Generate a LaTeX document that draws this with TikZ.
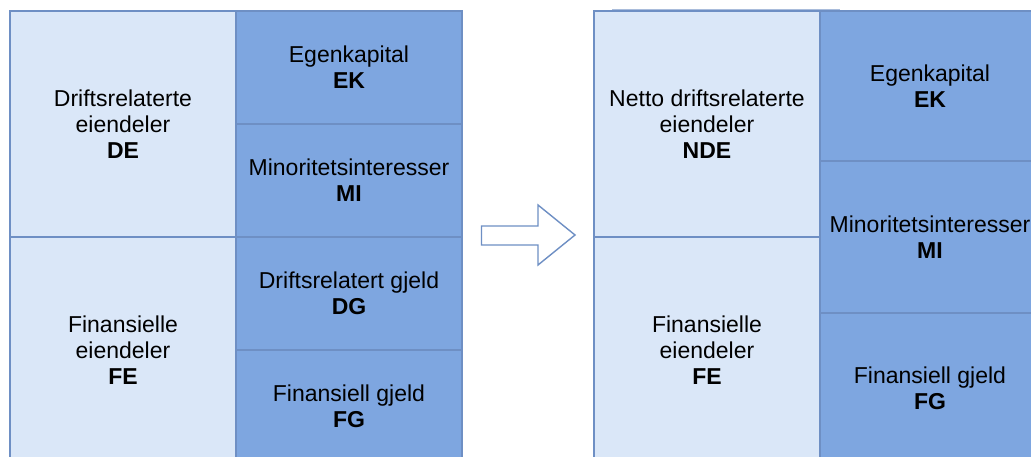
\documentclass[tikz,border=0pt]{standalone}
\usepackage{fontspec}
\setmainfont{Liberation Sans}
\definecolor{lightcell}{HTML}{DAE7F8}
\definecolor{darkcell}{HTML}{7EA6E0}
\definecolor{edge}{HTML}{6E8FC4}
\definecolor{edgefaint}{HTML}{A9BCDB}
\tikzset{
  cell/.style={draw=edge, line width=1.4pt, inner sep=0pt, outer sep=0pt,
    align=center, font=\fontsize{23}{26}\selectfont},
  lightbox/.style={cell, fill=lightcell},
  darkbox/.style={cell, fill=darkcell},
  shiftarrow/.style={draw=edge, line width=1.4pt, fill=white, line join=miter},
}
\begin{document}
\begin{tikzpicture}[x=1pt, y=-1pt]
\useasboundingbox (0,0) rectangle (1031,457);
\clip (0,0) rectangle (1031,457);
\fill[white] (0,0) rectangle (1031,457);

% balance sheet before reclassification
\node[lightbox, minimum width=226pt, minimum height=226pt] (de) at (123,124)
  {Driftsrelaterte\\eiendeler\\\textbf{DE}};
\node[lightbox, minimum width=226pt, minimum height=226pt] (fe) at (123,350)
  {Finansielle\\eiendeler\\\textbf{FE}};
\node[darkbox, minimum width=226pt, minimum height=113pt] (ek) at (349,67.5)
  {Egenkapital\\\textbf{EK}};
\node[darkbox, minimum width=226pt, minimum height=113pt] (mi) at (349,180.5)
  {Minoritetsinteresser\\\textbf{MI}};
\node[darkbox, minimum width=226pt, minimum height=113pt] (dg) at (349,293.5)
  {Driftsrelatert gjeld\\\textbf{DG}};
\node[darkbox, minimum width=226pt, minimum height=113pt] (fg) at (349,406.5)
  {Finansiell gjeld\\\textbf{FG}};

% block arrow between the two sheets
\draw[shiftarrow] (481.5,226) -- (538,226) -- (538,205) -- (575,235)
  -- (538,265) -- (538,245) -- (481.5,245) -- cycle;

% balance sheet after netting operating liabilities
\draw[edgefaint, line width=1pt] (612,10) -- (840,10);
\node[lightbox, minimum width=226pt, minimum height=226pt] (nde) at (707,124)
  {Netto driftsrelaterte\\eiendeler\\\textbf{NDE}};
\node[lightbox, minimum width=226pt, minimum height=226pt] (fe2) at (707,350)
  {Finansielle\\eiendeler\\\textbf{FE}};
\node[darkbox, minimum width=220pt, minimum height=150pt] (ek2) at (930,86)
  {Egenkapital\\\textbf{EK}};
\node[darkbox, minimum width=220pt, minimum height=152pt] (mi2) at (930,237)
  {Minoritetsinteresser\\\textbf{MI}};
\node[darkbox, minimum width=220pt, minimum height=150pt] (fg2) at (930,388)
  {Finansiell gjeld\\\textbf{FG}};
\end{tikzpicture}
\end{document}
